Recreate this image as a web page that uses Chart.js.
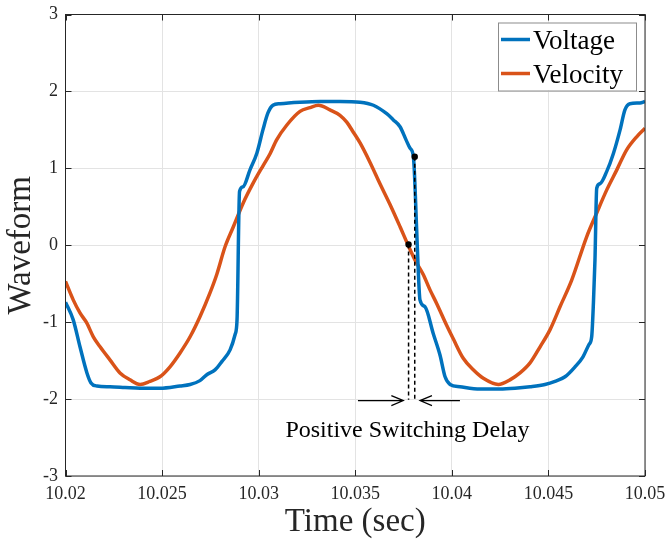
<!DOCTYPE html>
<html>
<head>
<meta charset="utf-8">
<script src="https://cdn.jsdelivr.net/npm/chart.js@4/dist/chart.umd.min.js"></script>
<style>
  html, body { margin: 0; padding: 0; background: #fff; }
  #wrap { width: 667px; height: 543px; }
</style>
</head>
<body>
<div id="wrap"><canvas id="myChart" width="667" height="543"></canvas></div>
<script>
// time (sec) and value
let voltageTime = [10.02000, 10.02040, 10.02075, 10.02111, 10.02132, 10.02163, 10.02230, 10.02308, 10.02386, 10.02489,
  10.02593, 10.02645, 10.02696, 10.02733, 10.02774, 10.02810, 10.02852, 10.02878, 10.02888, 10.02901,
  10.02919, 10.02955, 10.02991, 10.03022, 10.03048, 10.03074, 10.03110, 10.03214, 10.03318, 10.03421,
  10.03525, 10.03594, 10.03663, 10.03697, 10.03732, 10.03763, 10.03784, 10.03801,
  10.03818, 10.03826, 10.03835, 10.03861, 10.03904, 10.03939, 10.03965, 10.03991, 10.04042, 10.04146,
  10.04249, 10.04327, 10.04405, 10.04482, 10.04534, 10.04586, 10.04638, 10.04679, 10.04710, 10.04724,
  10.04733, 10.04741, 10.04750, 10.04767, 10.04802, 10.04836, 10.04871, 10.04896, 10.04922, 10.04974, 10.05000];
let voltageValue = [-0.74, -0.97, -1.32, -1.66, -1.79, -1.83, -1.84, -1.85, -1.86, -1.86,
  -1.83, -1.81, -1.76, -1.68, -1.62, -1.51, -1.36, -1.16, -0.97, 0.70,
  0.76, 0.98, 1.20, 1.50, 1.72, 1.82, 1.84, 1.86, 1.87, 1.87,
  1.86, 1.82, 1.71, 1.63, 1.54, 1.37, 1.26, 1.15,
  0.20, -0.32, -0.71, -0.80, -1.15, -1.43, -1.71, -1.81, -1.84, -1.87,
  -1.87, -1.86, -1.84, -1.81, -1.77, -1.71, -1.58, -1.45, -1.29, -1.19,
  -0.75, -0.19, 0.74, 0.80, 0.96, 1.19, 1.50, 1.76, 1.84, 1.85, 1.87];

let velocityTime = [10.02000, 10.02040, 10.02075, 10.02110, 10.02144, 10.02179, 10.02230, 10.02282, 10.02334, 10.02386,
  10.02437, 10.02489, 10.02541, 10.02593, 10.02645, 10.02696, 10.02748, 10.02783, 10.02826, 10.02869,
  10.02920, 10.02972, 10.03024, 10.03059, 10.03093, 10.03145, 10.03214, 10.03266, 10.03309, 10.03369,
  10.03421, 10.03456, 10.03490, 10.03525, 10.03576, 10.03628, 10.03680, 10.03732, 10.03772, 10.03809,
  10.03852, 10.03887, 10.03922, 10.03973, 10.04008, 10.04059, 10.04111, 10.04163, 10.04241, 10.04301,
  10.04353, 10.04405, 10.04457, 10.04508, 10.04560, 10.04621, 10.04698, 10.04750, 10.04802, 10.04854,
  10.04905, 10.04957, 10.05000];
let velocityValue = [-0.47, -0.71, -0.88, -1.01, -1.19, -1.32, -1.49, -1.66, -1.75, -1.81,
  -1.77, -1.71, -1.58, -1.40, -1.19, -0.93, -0.62, -0.38, -0.02, 0.24,
  0.55, 0.81, 1.04, 1.19, 1.37, 1.56, 1.74, 1.79, 1.82, 1.76,
  1.69, 1.60, 1.47, 1.33, 1.08, 0.80, 0.53, 0.24, 0.01, -0.19,
  -0.38, -0.58, -0.76, -1.04, -1.22, -1.47, -1.62, -1.73, -1.81, -1.75,
  -1.66, -1.53, -1.32, -1.10, -0.80, -0.45, 0.11, 0.42, 0.72, 0.98,
  1.24, 1.41, 1.52];

let xTicks = [10.02, 10.025, 10.03, 10.035, 10.04, 10.045, 10.05];
let xTickLabels = ["10.02", "10.025", "10.03", "10.035", "10.04", "10.045", "10.05"];
let yTicks = [-3, -2, -1, 0, 1, 2, 3];

// switching delay annotation: velocity zero crossing, voltage switching point
let delayTime = [10.03776, 10.03808];
let delayValue = [0.01, 1.15];
let delayBottom = -2.01;
let arrowLeftFrom = 10.03514, arrowLeftTo = 10.03749;
let arrowRightFrom = 10.04042, arrowRightTo = 10.03835;
let arrowValue = -2.02;
let delayText = "Positive Switching Delay";
let delayTextTime = 10.0377, delayTextValue = -2.41;

const SERIF = "'Liberation Serif', 'Times New Roman', serif";
const INK = "#262626";
const BLUE = "#0072BD";
const ORANGE = "#D95319";

function toPoints(ts, vs) {
  return ts.map((t, i) => ({ x: t, y: vs[i] }));
}

const frame = {
  id: "frame",
  afterDatasetsDraw(chart) {
    const { ctx, chartArea: a, scales: { x, y } } = chart;
    ctx.save();
    // dashed lines down from the two points
    ctx.strokeStyle = "#000";
    ctx.lineWidth = 1.5;
    ctx.setLineDash([4, 3]);
    for (let i = 0; i < delayTime.length; i++) {
      ctx.beginPath();
      ctx.moveTo(x.getPixelForValue(delayTime[i]), y.getPixelForValue(delayValue[i]));
      ctx.lineTo(x.getPixelForValue(delayTime[i]), y.getPixelForValue(delayBottom));
      ctx.stroke();
    }
    ctx.setLineDash([]);
    // markers
    ctx.fillStyle = "#000";
    for (let i = 0; i < delayTime.length; i++) {
      ctx.beginPath();
      ctx.arc(x.getPixelForValue(delayTime[i]), y.getPixelForValue(delayValue[i]), 3.2, 0, Math.PI * 2);
      ctx.fill();
    }
    // arrows
    const ay = y.getPixelForValue(arrowValue);
    function arrow(fromT, toT) {
      const x0 = x.getPixelForValue(fromT), x1 = x.getPixelForValue(toT);
      const d = Math.sign(x1 - x0);
      ctx.beginPath();
      ctx.moveTo(x0, ay);
      ctx.lineTo(x1, ay);
      ctx.moveTo(x1 - d * 12, ay - 5);
      ctx.lineTo(x1, ay);
      ctx.lineTo(x1 - d * 12, ay + 5);
      ctx.stroke();
    }
    ctx.lineWidth = 1.2;
    arrow(arrowLeftFrom, arrowLeftTo);
    arrow(arrowRightFrom, arrowRightTo);
    // text
    ctx.font = "24px " + SERIF;
    ctx.fillStyle = "#000";
    ctx.textAlign = "center";
    ctx.textBaseline = "middle";
    ctx.fillText(delayText, x.getPixelForValue(delayTextTime), y.getPixelForValue(delayTextValue));

    // box and inward ticks
    ctx.strokeStyle = INK;
    ctx.lineWidth = 1;
    ctx.strokeRect(a.left, a.top, a.right - a.left, a.bottom - a.top);
    ctx.beginPath();
    xTicks.forEach(v => {
      const px = Math.round(x.getPixelForValue(v)) + 0.5;
      ctx.moveTo(px, a.bottom); ctx.lineTo(px, a.bottom - 6);
      ctx.moveTo(px, a.top); ctx.lineTo(px, a.top + 6);
    });
    yTicks.forEach(v => {
      const py = Math.round(y.getPixelForValue(v)) + 0.5;
      ctx.moveTo(a.left, py); ctx.lineTo(a.left + 6, py);
      ctx.moveTo(a.right, py); ctx.lineTo(a.right - 6, py);
    });
    ctx.stroke();

    // legend
    const lx = a.right - 147, ly = a.top + 8, lw = 138, lh = 68;
    ctx.fillStyle = "#fff";
    ctx.fillRect(lx, ly, lw, lh);
    ctx.strokeStyle = "#8c8c8c";
    ctx.strokeRect(lx + 0.5, ly + 0.5, lw, lh);
    ctx.font = "27px " + SERIF;
    ctx.textAlign = "left";
    ctx.textBaseline = "alphabetic";
    chart.data.datasets.forEach((ds, i) => {
      const cy = ly + 17 + i * 34;
      ctx.strokeStyle = ds.borderColor;
      ctx.lineWidth = 3.5;
      ctx.beginPath();
      ctx.moveTo(lx + 3, cy);
      ctx.lineTo(lx + 32, cy);
      ctx.stroke();
      ctx.fillStyle = "#000";
      ctx.fillText(ds.label, lx + 35, cy + 9);
    });
    ctx.restore();
  }
};

let ctx = document.getElementById("myChart").getContext("2d");
let myChart = new Chart(ctx, {
  type: "line",
  data: {
    datasets: [
      {
        label: "Voltage",
        data: toPoints(voltageTime, voltageValue),
        borderColor: BLUE,
        borderWidth: 3.5,
        pointRadius: 0,
        cubicInterpolationMode: "monotone"
      },
      {
        label: "Velocity",
        data: toPoints(velocityTime, velocityValue),
        borderColor: ORANGE,
        borderWidth: 3.5,
        pointRadius: 0,
        cubicInterpolationMode: "monotone"
      }
    ]
  },
  options: {
    responsive: false,
    animation: false,
    events: [],
    layout: { padding: { top: 14.5, right: 22, left: 0, bottom: 0 } },
    plugins: { legend: { display: false }, tooltip: { enabled: false } },
    scales: {
      x: {
        type: "linear",
        min: 10.02,
        max: 10.05,
        afterBuildTicks: s => { s.ticks = xTicks.map(v => ({ value: v })); },
        afterFit: s => { s.height = 67; s.paddingLeft = 0; s.paddingRight = 0; },
        ticks: {
          autoSkip: false,
          maxRotation: 0,
          padding: 7,
          color: INK,
          font: { family: SERIF, size: 18 },
          callback: (v, i) => xTickLabels[i]
        },
        grid: { color: "#e3e3e3", drawTicks: false },
        border: { display: false },
        title: {
          display: true,
          text: "Time (sec)",
          color: INK,
          font: { family: SERIF, size: 33 },
          padding: { top: 0, bottom: 1 }
        }
      },
      y: {
        type: "linear",
        min: -3,
        max: 3,
        afterBuildTicks: s => { s.ticks = yTicks.map(v => ({ value: v })); },
        afterFit: s => { s.width = 65.5; s.paddingTop = 0; s.paddingBottom = 0; },
        ticks: {
          padding: 7.5,
          color: INK,
          font: { family: SERIF, size: 18 },
          callback: v => String(v)
        },
        grid: { color: "#e3e3e3", drawTicks: false },
        border: { display: false },
        title: {
          display: true,
          text: "Waveform",
          color: INK,
          font: { family: SERIF, size: 33 },
          padding: { top: 2, bottom: 0 }
        }
      }
    }
  },
  plugins: [frame]
});
</script>
</body>
</html>
